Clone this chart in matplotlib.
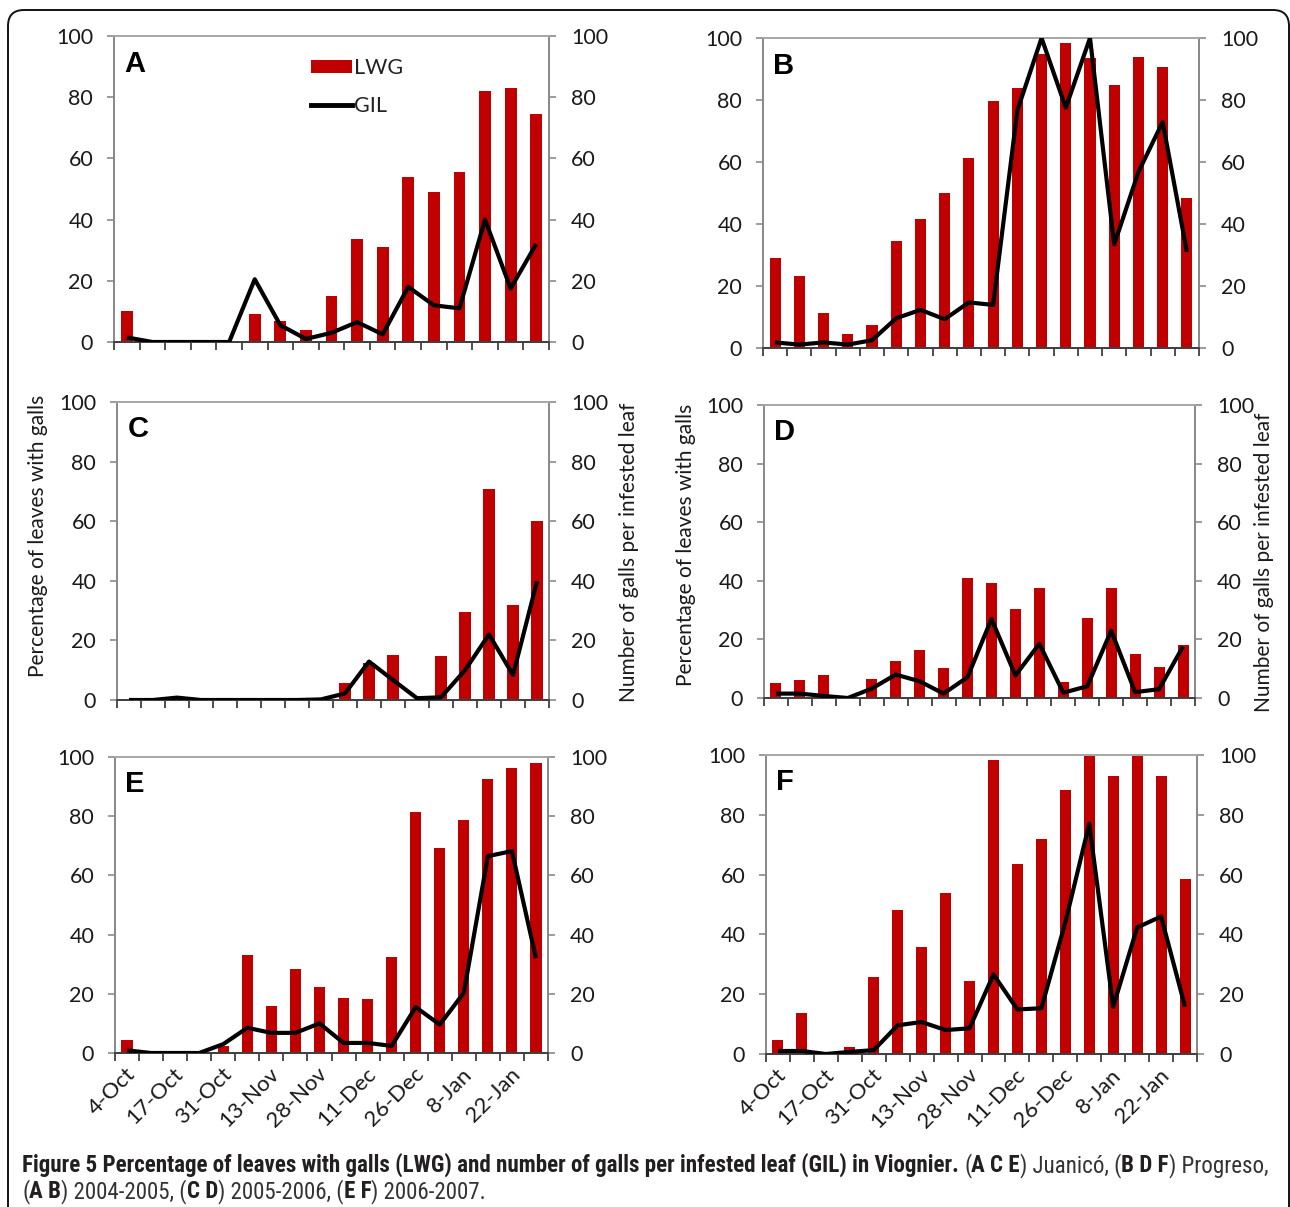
import matplotlib
matplotlib.use("Agg")
import matplotlib.pyplot as plt
import numpy as np
from matplotlib.patches import FancyBboxPatch, Patch
from matplotlib.lines import Line2D
from matplotlib import font_manager as fm

W, H = 1290, 1207

# ---------------- data ----------------
date_labels = ["4-Oct", "17-Oct", "31-Oct", "13-Nov", "28-Nov", "11-Dec", "26-Dec", "8-Jan", "22-Jan"]

A_lwg = [10, 0, 0, 0, 0, 9, 7, 4, 15, 33.5, 31, 54, 49, 55.5, 82, 83, 74.5]
A_gil = [1.5, 0, 0, 0, 0, 20.5, 5.5, 1, 3, 6.5, 2.5, 18, 12, 11, 40, 17.5, 32]

B_lwg = [29, 23.3, 11.3, 4.6, 7.5, 34.5, 41.7, 50, 61.3, 79.7, 84, 95, 98.5, 93.5, 85, 93.8, 90.6, 48.5]
B_gil = [1.8, 1.1, 1.8, 1.1, 2.5, 9.6, 12.3, 9.3, 14.7, 13.9, 76.6, 100, 77.5, 100, 33.4, 56.8, 72.9, 31]

C_lwg = [0, 0, 1.5, 0, 0, 0, 0, 0, 0, 5.6, 12.3, 15, 0.5, 14.8, 29.4, 70.9, 32, 60]
C_gil = [0, 0, 0.8, 0, 0, 0, 0, 0, 0.2, 2.2, 12.9, 6.7, 0.6, 0.9, 10, 22, 8.4, 39.8]

D_lwg = [5.1, 6, 7.7, 0, 6.6, 12.7, 16.5, 10.4, 41, 39.4, 30.4, 37.6, 5.4, 27.2, 37.6, 15, 10.6, 18.1]
D_gil = [1.5, 1.5, 0.7, 0, 3.2, 8, 5.7, 1.5, 7.1, 27, 7.7, 18.5, 1.8, 4, 23, 2, 3, 17.6]

E_lwg = [4.5, 0, 0, 0, 2.2, 33.2, 15.9, 28.3, 22.4, 18.7, 18.4, 32.4, 81.4, 69.3, 78.6, 92.5, 96.3, 98]
E_gil = [0.9, 0, 0, 0, 3, 8.5, 6.8, 6.8, 10, 3.4, 3.4, 2.4, 15.5, 9.6, 20.3, 66.5, 68.2, 32]

F_lwg = [4.7, 13.8, 0, 2.4, 25.6, 48.1, 35.9, 54, 24.4, 98.2, 63.7, 72, 88.4, 100, 92.9, 100, 92.9, 58.5]
F_gil = [1, 1, 0, 0.7, 1.3, 9.6, 10.7, 8, 8.6, 26.6, 14.9, 15.3, 44, 77, 15.8, 42.3, 46, 15.8]

yticks = [0, 20, 40, 60, 80, 100]

BAR = "#C00000"
TXT = "#1a1a1a"
GRAY = "#8a8a8a"
FONT = ["Lato", "DejaVu Sans"]

plt.rcParams["font.family"] = FONT

fig = plt.figure(figsize=(W / 100, H / 100), dpi=100)
fig.patch.set_facecolor("white")

# full-figure helper axes in pixel coordinates
bg = fig.add_axes([0, 0, 1, 1], zorder=-5)
bg.set_xlim(0, W)
bg.set_ylim(H, 0)
bg.axis("off")
border = FancyBboxPatch((8, 10), 1281, 1240, boxstyle="round,pad=0,rounding_size=16",
                        fill=False, edgecolor="#111111", linewidth=1.4, clip_on=False)
bg.add_patch(border)


def px_axes(l, r, t, b):
    return fig.add_axes([l / W, 1 - b / H, (r - l) / W, (b - t) / H])


def panel(box, lwg, gil, letter, xlabels=False, legend=False):
    ax = px_axes(*box)
    n = len(lwg)
    x = np.arange(n)
    ax.bar(x, lwg, width=0.46, color=BAR, zorder=2)
    ax.set_xlim(-0.5, n - 0.5)
    ax.set_ylim(0, 100)
    ax.set_yticks(yticks)
    ax.set_facecolor("none")
    ax2 = ax.twinx()
    ax2.plot(x, gil, color="black", lw=3.0, solid_joinstyle="round", solid_capstyle="butt", zorder=3)
    ax2.set_ylim(0, 100)
    ax2.set_yticks(yticks)
    for a in (ax, ax2):
        a.spines["top"].set_color("#a8a8a8")
        a.spines["left"].set_color(GRAY)
        a.spines["right"].set_color(GRAY)
        a.spines["bottom"].set_color("#404040")
        for s in a.spines.values():
            s.set_linewidth(1.3)
    ax.tick_params(axis="y", direction="out", length=5, width=1.2, color=GRAY,
                   labelsize=15.5, labelcolor=TXT, pad=10)
    ax2.tick_params(axis="y", direction="out", length=5, width=1.2, color=GRAY,
                    labelsize=15.5, labelcolor=TXT, pad=11)
    # category boundary tick marks
    ax.set_xticks(np.arange(-0.5, n, 1.0), minor=True)
    ax.tick_params(axis="x", which="minor", direction="out", length=6, width=1.3, color="#404040")
    if xlabels:
        ax.set_xticks(np.arange(0, 2 * len(date_labels), 2) + 0.2)
        ax.set_xticklabels(date_labels, rotation=45, ha="right", va="center",
                           rotation_mode="anchor", fontsize=16, color=TXT)
        ax.tick_params(axis="x", which="major", length=0, pad=13)
    else:
        ax.set_xticks([])
    ax.text(0.024, 0.955, letter, transform=ax.transAxes, fontsize=21, fontweight="bold",
            family=["Liberation Sans", "DejaVu Sans"], va="top", ha="left", color="black")
    if legend:
        handles = [Patch(facecolor=BAR, edgecolor="none", label="LWG"),
                   Line2D([0], [0], color="black", lw=3.5, label="GIL")]
        leg = ax.legend(handles=handles, loc="upper left", bbox_to_anchor=(0.452, 0.928),
                        frameon=False, fontsize=15.5, handlelength=1.9, handletextpad=0.1,
                        handleheight=0.6, labelspacing=0.85, borderpad=0, borderaxespad=0)
        for t in leg.get_texts():
            t.set_color("#222222")
    return ax, ax2


panel((114, 549, 36, 342), A_lwg, A_gil, "A", legend=True)
panel((763, 1199, 38, 348), B_lwg, B_gil, "B")
panel((117, 549, 402, 700), C_lwg, C_gil, "C")
panel((764, 1195, 405, 698), D_lwg, D_gil, "D")
panel((115, 548, 757, 1053), E_lwg, E_gil, "E", xlabels=True)
panel((766, 1197, 755, 1054), F_lwg, F_gil, "F", xlabels=True)

# y-axis titles
ylab_kw = dict(rotation=90, ha="center", va="center", fontsize=15, color=TXT)
bg.text(38, 536, "Percentage of leaves with galls", **ylab_kw)
bg.text(629, 552, "Number of galls per infested leaf", **ylab_kw)
bg.text(686, 545, "Percentage of leaves with galls", **ylab_kw)
bg.text(1264, 562, "Number of galls per infested leaf", **ylab_kw)

# caption font: prefer a condensed face if one is installed
cap_font = ["Roboto", "DejaVu Sans"]
cap_stretch = "normal"
for f in fm.fontManager.ttflist:
    if f.name in ("Liberation Sans Narrow", "Open Sans Condensed", "Roboto Condensed"):
        cap_font = [f.name, "DejaVu Sans"]
        break
else:
    for f in fm.fontManager.ttflist:
        if f.name == "DejaVu Sans" and str(f.stretch) in ("condensed", "semi-condensed", "500", "400"):
            if "Condensed" in f.fname:
                cap_font = ["DejaVu Sans"]
                cap_stretch = "condensed"
                break

DARK = "#231f20"
REG = "#333333"
RW = "light" if cap_font[0] == "Roboto" else "normal"
line1 = [("Figure 5 Percentage of leaves with galls (LWG) and number of galls per infested leaf (GIL) in Viognier. ", "bold", DARK),
         ("(", RW, REG), ("A C E", "bold", DARK), (") Juanicó, (", RW, REG),
         ("B D F", "bold", DARK), (") Progreso,", RW, REG)]
line2 = [("(", RW, REG), ("A B", "bold", DARK), (") 2004-2005, (", RW, REG),
         ("C D", "bold", DARK), (") 2005-2006, (", RW, REG), ("E F", "bold", DARK),
         (") 2006-2007.", RW, REG)]

renderer = fig.canvas.get_renderer()


def width_of(txt, size, wt):
    t = bg.text(0, 0, "|" + txt + "|", fontsize=size, fontweight=wt, family=cap_font,
                fontstretch=cap_stretch)
    b = bg.text(0, 0, "||", fontsize=size, fontweight=wt, family=cap_font, fontstretch=cap_stretch)
    w = t.get_window_extent(renderer).width - b.get_window_extent(renderer).width
    t.remove()
    b.remove()
    return w


def draw_line(pieces, x0, y, size, draw=True):
    x = x0
    for txt, wt, col in pieces:
        if draw:
            bg.text(x, y, txt, fontsize=size, fontweight=wt, color=col, family=cap_font,
                    fontstretch=cap_stretch, ha="left", va="baseline")
        x += width_of(txt, size, wt)
    return x - x0


size = 13.0
total = draw_line(line1, 22, 1172, size, draw=False)
size = size * (1267 - 22) / total
draw_line(line1, 22, 1172, size)
draw_line(line2, 22, 1198, size)

fig.savefig("out.png", dpi=100, facecolor="white")
